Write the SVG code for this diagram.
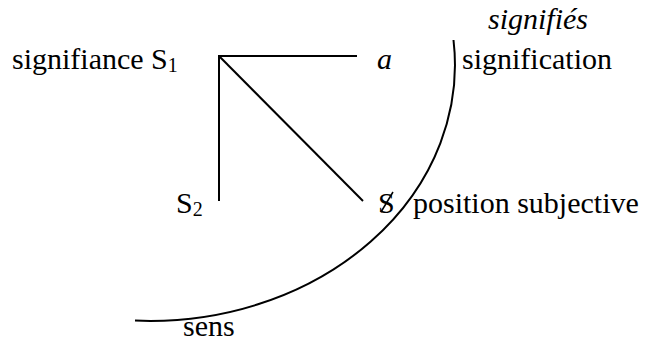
<svg xmlns="http://www.w3.org/2000/svg" width="657" height="347" viewBox="0 0 657 347">
<style>
text{font-family:"Liberation Serif","Times New Roman",serif;font-size:30px;fill:#000}
.it{font-style:italic}
.sub{font-size:20px}
.ln{stroke:#000;stroke-width:2;fill:none}
</style>
<rect width="657" height="347" fill="#fff"/>
<g id="connectors">
<line class="ln" x1="219" y1="56" x2="357" y2="56"/>
<line class="ln" x1="219" y1="55" x2="219" y2="201"/>
<line class="ln" x1="219" y1="56" x2="363" y2="201"/>
<path id="arc" class="ln" d="M 453.5 40 A 305 256 0 0 1 135 320.6"/>
</g>
<g id="node-S1"><text x="12" y="69">signifiance S<tspan class="sub" dy="3">1</tspan></text></g>
<g id="node-a"><text class="it" x="377" y="69">a</text></g>
<g id="node-signifies"><text class="it" x="488" y="29">signifiés</text></g>
<g id="node-signification"><text x="462" y="69">signification</text></g>
<g id="node-S2"><text x="176" y="213">S<tspan class="sub" dy="3">2</tspan></text></g>
<g id="node-barredS"><text x="378" y="213">S</text><line x1="381" y1="212" x2="393" y2="192" stroke="#000" stroke-width="1.5"/></g>
<g id="node-position"><text x="413" y="213">position subjective</text></g>
<g id="node-sens"><text x="183" y="336">sens</text></g>
</svg>
